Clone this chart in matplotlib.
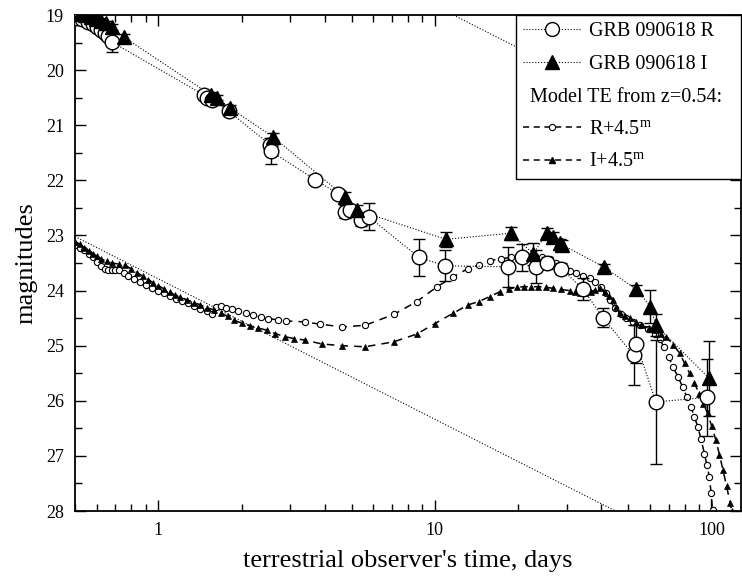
import numpy as np
import matplotlib
matplotlib.use('Agg')
import matplotlib.pyplot as plt
from matplotlib.lines import Line2D
from matplotlib.ticker import FixedLocator, LogLocator, NullFormatter, FuncFormatter, MultipleLocator

plt.rcParams['font.family'] = ['Liberation Serif', 'DejaVu Serif']
plt.rcParams['mathtext.fontset'] = 'custom'
plt.rcParams['mathtext.rm'] = 'Liberation Serif'

# observed GRB 090618, R band (days, mag, error)
R_t = [0.51, 0.53, 0.555, 0.58, 0.60, 0.62, 0.64, 0.66, 0.68, 1.46, 1.50, 1.57, 1.80,
       2.53, 2.55, 3.70, 4.45, 4.73, 4.94, 5.41, 5.76, 8.78, 10.88, 18.4, 20.6, 23.2,
       25.5, 28.7, 34.4, 40.5, 52.3, 53.6, 63.0, 96.7]
R_m = [19.05, 19.08, 19.12, 19.17, 19.22, 19.27, 19.32, 19.38, 19.49, 20.45, 20.50, 20.54, 20.75,
       21.35, 21.47, 21.99, 22.24, 22.57, 22.54, 22.72, 22.66, 23.40, 23.55, 23.57, 23.40, 23.57,
       23.50, 23.60, 23.98, 24.49, 25.17, 24.97, 26.02, 25.94]
R_e = [0.05, 0.05, 0.05, 0.05, 0.05, 0.05, 0.06, 0.08, 0.18, 0.08, 0.08, 0.08, 0.08,
       0.12, 0.23, 0.08, 0.08, 0.12, 0.10, 0.10, 0.24, 0.34, 0.28, 0.36, 0.25, 0.30,
       0.10, 0.10, 0.20, 0.17, 0.55, 0.35, 1.12, 0.70]

# observed GRB 090618, I band
I_t = [0.52, 0.545, 0.57, 0.595, 0.62, 0.645, 0.68, 0.75, 1.55, 1.63, 1.82, 2.60,
       4.73, 5.23, 10.96, 18.8, 22.7, 25.5, 26.8, 28.3, 28.9, 40.8, 53.6, 60.2, 63.0, 98.1]
I_m = [18.98, 19.00, 19.03, 19.07, 19.10, 19.15, 19.22, 19.40, 20.45, 20.50, 20.69, 21.21,
       22.30, 22.54, 23.07, 22.96, 23.33, 22.95, 23.02, 23.14, 23.17, 23.57, 23.98, 24.29, 24.63, 25.59]
I_e = [0.05, 0.05, 0.05, 0.05, 0.05, 0.05, 0.05, 0.05, 0.05, 0.05, 0.05, 0.06,
       0.08, 0.10, 0.14, 0.12, 0.20, 0.08, 0.08, 0.08, 0.08, 0.05, 0.08, 0.30, 0.20, 0.68]

# model TE light curves (z=0.54), shifted by +4.5 mag
RM_t = [0.50, 0.52, 0.54, 0.56, 0.58, 0.60, 0.62, 0.64, 0.66, 0.68, 0.70, 0.72, 0.75, 0.78,
        0.82, 0.86, 0.90, 0.95, 1.00, 1.05, 1.10, 1.16, 1.22, 1.28, 1.35, 1.42, 1.50, 1.56,
        1.62, 1.68, 1.76, 1.85, 1.95, 2.07, 2.20, 2.35, 2.50, 2.70, 2.90, 3.40, 3.85, 4.62,
        5.6, 7.13, 8.6, 10.2, 11.66, 13.2, 14.4, 15.8, 17.4, 18.9, 20.0, 21.5, 23.0, 24.5,
        26.0, 27.5, 29.1, 30.7, 32.5, 34.4, 36.4, 38.0, 40.0, 41.5, 43.0, 44.8, 47.0, 49.3,
        52.0, 55.1, 58.8, 62.8, 65.0, 67.3, 70.0, 72.7, 75.6, 78.8, 81.5, 84.4, 86.8, 89.3,
        91.8, 94.4, 96.4, 98.4, 99.8, 101.0]
RM_m = [23.17, 23.22, 23.27, 23.33, 23.40, 23.48, 23.55, 23.60, 23.62, 23.62, 23.62, 23.63, 23.68, 23.73,
        23.79, 23.85, 23.90, 23.95, 24.00, 24.05, 24.10, 24.15, 24.19, 24.23, 24.28, 24.33, 24.38, 24.42,
        24.30, 24.28, 24.31, 24.34, 24.37, 24.41, 24.45, 24.48, 24.51, 24.53, 24.55, 24.57, 24.61, 24.66,
        24.63, 24.43, 24.20, 23.93, 23.75, 23.60, 23.54, 23.46, 23.42, 23.40, 23.39, 23.38, 23.38, 23.40,
        23.43, 23.50, 23.60, 23.64, 23.69, 23.73, 23.78, 23.85, 23.94, 24.05, 24.18, 24.32, 24.42, 24.50,
        24.57, 24.63, 24.70, 24.78, 24.88, 25.02, 25.20, 25.38, 25.56, 25.75, 25.93, 26.11, 26.29, 26.47,
        26.70, 26.96, 27.17, 27.38, 27.68, 27.98]

IM_t = [0.50, 0.52, 0.54, 0.56, 0.58, 0.60, 0.62, 0.65, 0.68, 0.72, 0.76, 0.80, 0.84, 0.88,
        0.92, 0.96, 1.00, 1.05, 1.10, 1.15, 1.20, 1.27, 1.35, 1.42, 1.50, 1.59, 1.68, 1.78,
        1.88, 2.00, 2.15, 2.30, 2.47, 2.65, 2.88, 3.10, 3.40, 3.91, 4.62, 5.6, 7.1, 8.6,
        10.0, 11.66, 13.2, 14.4, 15.8, 17.2, 18.5, 19.8, 21.0, 22.3, 23.7, 25.2, 26.8, 28.7,
        30.7, 32.0, 33.4, 35.0, 36.7, 38.0, 39.5, 41.2, 42.6, 44.1, 45.3, 46.6, 48.6, 50.7,
        53.2, 55.8, 59.5, 63.2, 66.0, 68.7, 72.7, 76.9, 80.0, 83.4, 86.8, 90.4, 93.6, 96.9,
        100.3, 103.8, 107.0, 110.2, 113.5, 117.0, 118.5]
IM_m = [23.11, 23.16, 23.22, 23.28, 23.33, 23.38, 23.42, 23.47, 23.50, 23.52, 23.54, 23.61, 23.68, 23.74,
        23.80, 23.86, 23.91, 23.97, 24.03, 24.08, 24.11, 24.17, 24.22, 24.26, 24.31, 24.35, 24.40, 24.47,
        24.54, 24.59, 24.64, 24.68, 24.72, 24.78, 24.84, 24.87, 24.90, 24.97, 25.00, 25.02, 24.93, 24.79,
        24.60, 24.41, 24.26, 24.20, 24.11, 24.02, 23.97, 23.94, 23.93, 23.93, 23.93, 23.94, 23.96, 23.98,
        24.00, 24.03, 24.05, 24.04, 24.02, 23.99, 23.96, 24.02, 24.09, 24.17, 24.30, 24.41, 24.46, 24.50,
        24.57, 24.63, 24.68, 24.72, 24.78, 24.84, 24.98, 25.14, 25.32, 25.50, 25.68, 25.87, 26.05, 26.23,
        26.46, 26.71, 26.98, 27.26, 27.55, 27.86, 28.00]

# power-law lines (end points)
PL1_t = [0.5, 45.0]
PL1_m = [23.02, 28.0]
PL2_t = [11.68, 128.0]
PL2_m = [19.0, 21.65]

fig = plt.figure(figsize=(7.42, 5.8), dpi=100)
ax = fig.add_axes([75/742, 69/580, 666/742, 496/580])

ax.plot(PL1_t, PL1_m, ':', color='k', lw=0.8)
ax.plot(PL2_t, PL2_m, ':', color='k', lw=0.8)

# model curves
ax.plot(RM_t, RM_m, color='k', lw=1.1, dashes=(5, 4), marker='o', ms=4.5,
        mfc='white', mec='k', mew=0.8)
ax.plot(IM_t, IM_m, color='k', lw=1.1, dashes=(5, 4), marker='^', ms=5,
        mfc='k', mec='k', mew=0.5)

# data
ax.plot(R_t, R_m, ':', color='k', lw=0.8)
ax.plot(I_t, I_m, ':', color='k', lw=0.8)
ax.errorbar(R_t, R_m, yerr=R_e, fmt='none', ecolor='k', elinewidth=1, capsize=4, capthick=1)
ax.errorbar(I_t, I_m, yerr=I_e, fmt='none', ecolor='k', elinewidth=1, capsize=4, capthick=1)
ax.plot(R_t, R_m, 'o', ms=10.5, mfc='white', mec='k', mew=1, zorder=5)
ax.plot(I_t, I_m, '^', ms=10.5, mfc='k', mec='k', mew=1, zorder=5)

ax.set_xscale('log')
ax.set_xlim(0.5, 128)
ax.set_ylim(28, 19)
ax.xaxis.set_major_locator(FixedLocator([1, 10, 100]))
ax.xaxis.set_minor_locator(LogLocator(base=10, subs=np.arange(2, 10)))
ax.xaxis.set_major_formatter(FuncFormatter(lambda v, p: '%g' % v))
ax.xaxis.set_minor_formatter(NullFormatter())
ax.yaxis.set_major_locator(MultipleLocator(1))
ax.yaxis.set_minor_locator(MultipleLocator(0.5))

ax.tick_params(which='both', direction='in', top=True, right=True, width=1, labelsize=13, pad=8)
ax.tick_params(which='major', length=8)
ax.tick_params(which='minor', length=5)
for s in ax.spines.values():
    s.set_linewidth(1.3)

ax.set_xlabel("terrestrial observer's time, days", fontsize=19, labelpad=8)
ax.set_ylabel('magnitudes', fontsize=19, labelpad=6)

handles = [
    Line2D([], [], ls=':', color='k', lw=0.8, marker='o', ms=10, mfc='white', mec='k'),
    Line2D([], [], ls=':', color='k', lw=0.8, marker='^', ms=10, mfc='k', mec='k'),
    Line2D([], [], ls='none'),
    Line2D([], [], color='k', lw=1.1, dashes=(4, 3), marker='o', ms=4.5, mfc='white', mec='k', mew=0.8),
    Line2D([], [], color='k', lw=1.1, dashes=(4, 3), marker='^', ms=5, mfc='k', mec='k'),
]
labels = ['GRB 090618 R', 'GRB 090618 I', 'Model TE from z=0.54:',
          r'R+4.5$^{\mathrm{m}}$', r'I+4.5$^{\mathrm{m}}$']
leg = ax.legend(handles, labels, loc='upper right', bbox_to_anchor=(0.662, 0., 0.338, 1.),
                mode='expand', borderaxespad=0, fontsize=14.5, handlelength=2.9,
                handletextpad=0.4, labelspacing=0.68, borderpad=0.35, fancybox=False,
                framealpha=1, edgecolor='k')
leg.get_frame().set_linewidth(1.0)
leg.set_zorder(10)
leg.get_texts()[2].set_x(-59)

fig.savefig('out.png', dpi=100)
